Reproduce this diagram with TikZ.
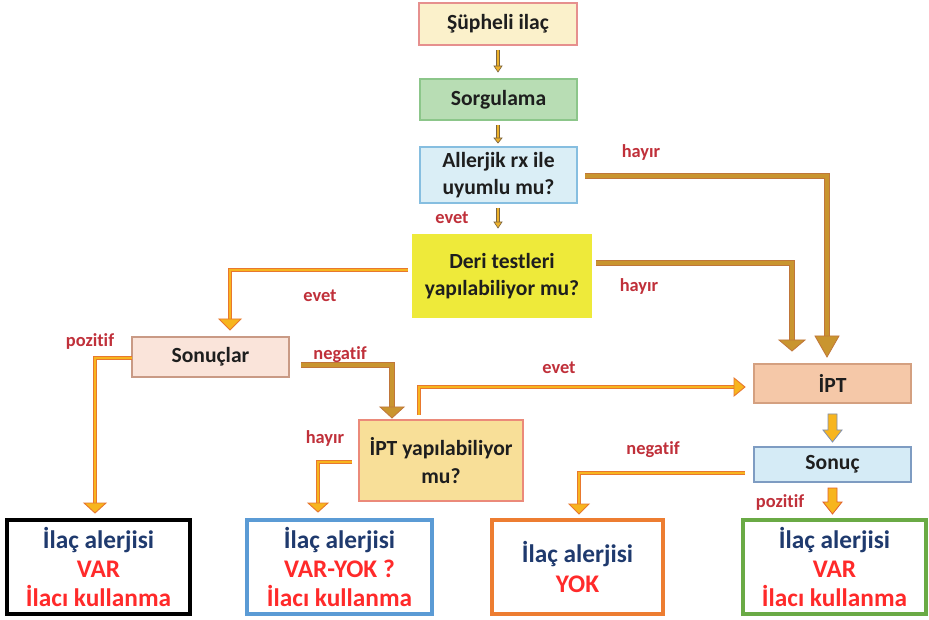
\documentclass[tikz,border=0pt]{standalone}
\usepackage{fontspec}
\setmainfont[Ligatures=NoCommon]{Carlito}
\usetikzlibrary{calc}
\definecolor{txt}{HTML}{1E1E1E}
\definecolor{lab}{HTML}{C0303A}
\definecolor{navy}{HTML}{1F3A6E}
\definecolor{redt}{HTML}{FF2A2A}
\definecolor{bO}{HTML}{E8782E}
\definecolor{bF}{HTML}{F7B51E}
\definecolor{dO}{HTML}{C0763A}
\definecolor{dF}{HTML}{C9952F}
\definecolor{sO}{HTML}{7A6440}
\definecolor{sF}{HTML}{EDB12B}
\definecolor{gO}{HTML}{8090B0}
\definecolor{rO}{HTML}{E0602A}
\definecolor{cAf}{HTML}{FBF1CB}\definecolor{cAd}{HTML}{E6908E}
\definecolor{cBf}{HTML}{B8DDB4}\definecolor{cBd}{HTML}{8CC68A}
\definecolor{cCf}{HTML}{DAEEF6}\definecolor{cCd}{HTML}{86BEE0}
\definecolor{cDf}{HTML}{EEEA3A}
\definecolor{cEf}{HTML}{FAE4DA}\definecolor{cEd}{HTML}{C99A85}
\definecolor{cFf}{HTML}{F8DF98}\definecolor{cFd}{HTML}{EB8A7A}
\definecolor{cGf}{HTML}{F5C8A8}\definecolor{cGd}{HTML}{D4A080}
\definecolor{cHf}{HTML}{D5EBF6}\definecolor{cHd}{HTML}{7E9CC2}
\definecolor{bbl}{HTML}{5B9BD5}
\definecolor{bor}{HTML}{ED7D31}
\definecolor{bgr}{HTML}{6AAA45}
\newcommand\arrhd[4]{\filldraw[#4] ($(#1)+(-#2,0)$) -- ($(#1)+(#2,0)$) -- ($(#1)+(0,#3)$) -- cycle;}
\newcommand\arrhr[4]{\filldraw[#4] ($(#1)+(0,-#2)$) -- ($(#1)+(0,#2)$) -- ($(#1)+(#3,0)$) -- cycle;}
\newcommand\blockarr[3]{\filldraw[#3] ($(#1)+(-4.5,0)$) -- ($(#2)+(-4.5,-12)$) -- ($(#2)+(-9.5,-12)$) -- (#2) -- ($(#2)+(9.5,-12)$) -- ($(#2)+(4.5,-12)$) -- ($(#1)+(4.5,0)$) -- cycle;}
\begin{document}
\begin{tikzpicture}[x=0.75pt,y=-0.75pt,
  box/.style={draw, line width=1.1pt, inner sep=0pt, outer sep=0pt, align=center, text=txt, font=\fontsize{16.2}{20.5}\selectfont\bfseries},
  sz/.style 2 args={minimum width=#1*0.75pt, minimum height=#2*0.75pt},
  big/.style={box, line width=2.3pt, fill=white, font=\fontsize{19}{22}\selectfont\bfseries},
  lbl/.style={text=lab, font=\fontsize{13.8}{15}\selectfont\bfseries, inner sep=0pt},
  brightshaft/.style={draw=bO, double=bF, line width=0.75pt, double distance=2.1pt, line join=miter},
  darkshaft/.style={draw=dO, double=dF, line width=0.6pt, double distance=2.6pt, line join=miter},
  smallshaft/.style={draw=sO, double=sF, line width=0.5pt, double distance=2.2pt},
  brighthead/.style={fill=bF, draw=bO, line width=0.7pt, line join=miter},
  darkhead/.style={fill=dF, draw=dO, line width=0.6pt, line join=miter},
  smallhead/.style={fill=sF, draw=sO, line width=0.5pt},
  blockA/.style={fill=bF, draw=gO, line width=0.6pt, line join=miter},
  blockB/.style={fill=bF, draw=rO, line width=0.6pt, line join=miter},
]
\fill[white] (0,0) rectangle (929,620);
\useasboundingbox (0,0) rectangle (929,620);

% nodes
\node[box, sz={158}{42}, fill=cAf, draw=cAd] (sup) at (498,24) {Şüpheli ilaç};
\node[box, sz={157}{41}, fill=cBf, draw=cBd] (sorg) at (498.5,99.5) {Sorgulama};
\node[box, sz={157}{56}, fill=cCf, draw=cCd] (all) at (498.5,175) {Allerjik rx ile\\uyumlu mu?};
\node[box, sz={178}{82}, fill=cDf, draw=cDf] (deri) at (502,276) {Deri testleri\\yapılabiliyor mu?};
\node[box, sz={157}{40}, fill=cEf, draw=cEd] (son) at (210.5,357) {Sonuçlar};
\node[box, sz={164}{81}, fill=cFf, draw=cFd] (iptq) at (441,460.5) {İPT yapılabiliyor\\mu?};
\node[box, sz={157}{39}, fill=cGf, draw=cGd] (ipt) at (832.5,383.5) {İPT};
\node[box, sz={157}{35}, fill=cHf, draw=cHd] (sonuc) at (832.5,464.5) {Sonuç};
\node[big, sz={183}{94}, draw=black] (b1) at (98.5,567)
  {\textcolor{navy}{İlaç alerjisi}\\\textcolor{redt}{VAR}\\\textcolor{redt}{İlacı kullanma}};
\node[big, sz={185}{94}, draw=bbl] (b2) at (339.5,567)
  {\textcolor{navy}{İlaç alerjisi}\\\textcolor{redt}{VAR-YOK ?}\\\textcolor{redt}{İlacı kullanma}};
\node[big, sz={171}{94}, draw=bor] (b3) at (577.5,567)
  {\textcolor{navy}{İlaç alerjisi}\\\textcolor{redt}{YOK}};
\node[big, sz={183}{94}, draw=bgr] (b4) at (834.5,567)
  {\textcolor{navy}{İlaç alerjisi}\\\textcolor{redt}{VAR}\\\textcolor{redt}{İlacı kullanma}};

% small top arrows
\draw[smallshaft] ($(sup.south)+(0,5)$) -- ($(sup.south|-sorg.north)+(0,-13)$) coordinate (h1);
\arrhd{h1}{4}{6}{smallhead}
\draw[smallshaft] ($(sorg.south)+(-0.5,5)$) -- ($(sup.south|-all.north)+(0,-9)$) coordinate (h2);
\arrhd{h2}{4}{5}{smallhead}
\draw[smallshaft] ($(all.south)+(-0.5,5)$) -- ($(sup.south|-deri.north)+(0,-13)$) coordinate (h3);
\arrhd{h3}{4}{6}{smallhead}

% Allerjik -> IPT (hayir)
\draw[darkshaft] ($(all.east)+(8,1)$) -| ($(ipt.north)+(-5.5,-28)$) coordinate (h4);
\arrhd{h4}{12}{21}{darkhead}
% Deri -> IPT (hayir)
\draw[darkshaft] ($(deri.east)+(5,-13)$) -| ($(ipt.north)+(-40.5,-24)$) coordinate (h5);
\arrhd{h5}{13}{11}{darkhead}
% Deri -> Sonuclar (evet)
\draw[brightshaft] ($(deri.west)+(-5,-6)$) -| ($(son.north)+(19.5,-18)$) coordinate (h6);
\arrhd{h6}{11}{11}{brighthead}
% Sonuclar -> b1 (pozitif)
\draw[brightshaft] ($(son.west)+(0,1)$) -| ($(b1.north)+(-3.5,-17)$) coordinate (h7);
\arrhd{h7}{11}{10}{brighthead}
% Sonuclar -> IPT yap (negatif)
\draw[darkshaft] ($(son.east)+(12,8)$) -| ($(iptq.north)+(-49,-13)$) coordinate (h8);
\arrhd{h8}{12}{11}{darkhead}
% IPT yap -> IPT (evet)
\draw[brightshaft] ($(iptq.north)+(-22,-5)$) |- ($(ipt.west)+(-20,3.5)$) coordinate (h9);
\arrhr{h9}{9}{11}{brighthead}
% IPT yap -> b2 (hayir)
\draw[brightshaft] ($(iptq.west)+(-7,1.5)$) -| ($(b2.north)+(-21.5,-17)$) coordinate (h10);
\arrhd{h10}{10}{9}{brighthead}
% Sonuc -> b3 (negatif)
\draw[brightshaft] ($(sonuc.west)+(-9,8.5)$) -| ($(b3.north)+(1.5,-16)$) coordinate (h12);
\arrhd{h12}{10}{10}{brighthead}
% IPT -> Sonuc
\coordinate (t11) at ($(ipt.south)+(0,11)$);
\coordinate (p11) at ($(sonuc.north)+(0,-5)$);
\blockarr{t11}{p11}{blockA}
% Sonuc -> b4 (pozitif)
\coordinate (t13) at ($(sonuc.south)+(0,6)$);
\coordinate (p13) at ($(sonuc.south|-b4.north)+(0,-6)$);
\blockarr{t13}{p13}{blockB}

% labels
\node[lbl] (l1) at (452,218) {evet};
\node[lbl] (l2) at (641,152) {hayır};
\node[lbl] (l3) at (639,286) {hayır};
\node[lbl] (l4) at (320,296) {evet};
\node[lbl] (l5) at (90,341) {pozitif};
\node[lbl] (l6) at (340,355) {negatif};
\node[lbl] (l7) at (325,438) {hayır};
\node[lbl] (l8) at (559,368) {evet};
\node[lbl] (l9) at (653,450) {negatif};
\node[lbl] (l10) at (780,502) {pozitif};
\end{tikzpicture}
\end{document}
